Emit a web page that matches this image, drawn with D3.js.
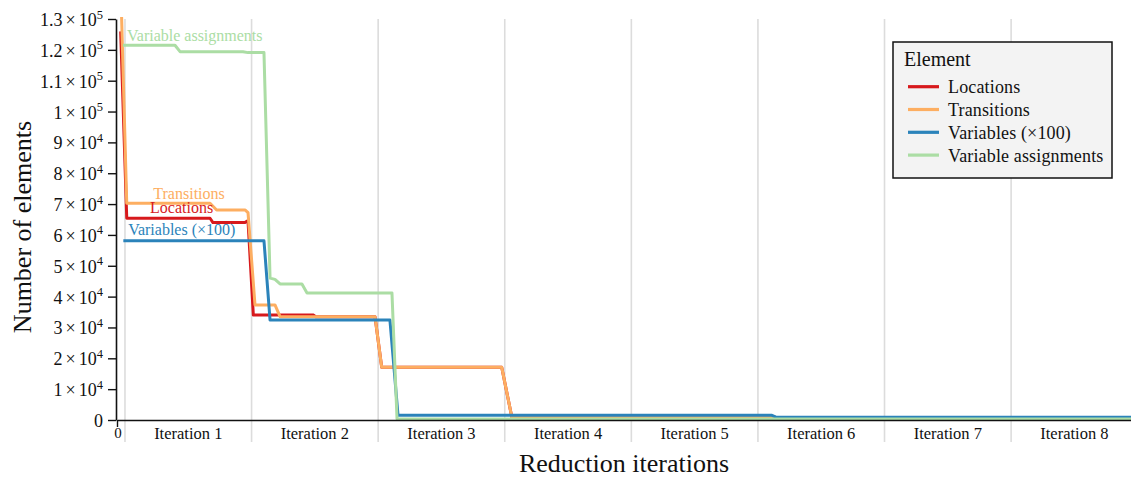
<!DOCTYPE html>
<html>
<head>
<meta charset="utf-8">
<script src="https://cdn.jsdelivr.net/npm/d3@7"></script>
<style>
  body { margin: 0; background: #fff; }
  svg { display: block; }
  text { font-family: "Liberation Serif", "DejaVu Serif", serif; fill: #111; }
</style>
</head>
<body>
<svg id="chart" width="1131" height="480"></svg>
<script>
// Series: [progress in reduction iterations, number of elements]
const seriesNames = ["Locations", "Transitions", "Variables (×100)", "Variable assignments"];
const seriesColors = ["#d7191c", "#fdae61", "#2b83ba", "#abdda4"];

const locations = [
  [0.029, 126000], [0.077, 65400], [0.735, 65400], [0.758, 64000], [1.011, 64000],
  [1.029, 64500], [1.035, 64500], [1.077, 34000], [1.553, 34000], [1.57, 33500],
  [2.038, 33500], [2.091, 17100], [3.039, 17100], [3.118, 1100], [5.174, 1100],
  [5.205, 800], [8.01, 800]
];
const transitions = [
  [0.03, 140000], [0.077, 70250], [0.735, 70250], [0.787, 68100], [1.011, 68100],
  [1.035, 67200], [1.09, 37300], [1.248, 37300], [1.288, 33500], [2.038, 33500],
  [2.091, 17100], [3.039, 17100], [3.118, 1100], [5.174, 1100], [5.205, 800], [8.01, 800]
];
const variables = [
  [0.05, 58100], [1.161, 58100], [1.209, 32400], [2.156, 32400], [2.22, 1500],
  [5.174, 1500], [5.205, 900], [8.01, 900]
];
const variableAssignments = [
  [0.047, 121500], [0.458, 121500], [0.498, 119400], [0.995, 119400], [1.035, 119100],
  [1.161, 119100], [1.209, 46000], [1.248, 45600], [1.288, 44100], [1.461, 44100],
  [1.501, 41200], [2.172, 41200], [2.212, 350], [8.01, 350]
];
const seriesData = [locations, transitions, variables, variableAssignments];

const yTicks = [0, 10000, 20000, 30000, 40000, 50000, 60000, 70000, 80000, 90000,
                100000, 110000, 120000, 130000];
const iterationBounds = [0.063, 1.063, 2.063, 3.063, 4.063, 5.063, 6.063, 7.063];
const iterationLabels = ["Iteration 1", "Iteration 2", "Iteration 3", "Iteration 4",
                         "Iteration 5", "Iteration 6", "Iteration 7", "Iteration 8"];

const svg = d3.select("#chart");
const x = d3.scaleLinear().domain([0, 8.01]).range([117, 1131]);
const y = d3.scaleLinear().domain([0, 130000]).range([420, 19]);

// iteration boundary gridlines
svg.append("g").selectAll("line").data(iterationBounds).join("line")
  .attr("x1", d => x(d)).attr("x2", d => x(d))
  .attr("y1", y(130000)).attr("y2", 442)
  .attr("stroke", "#dcdcdc").attr("stroke-width", 1.6);

// iteration labels centred in each iteration band
svg.append("g").selectAll("text").data(iterationLabels).join("text")
  .attr("x", (d, i) => x(iterationBounds[i] + 0.5))
  .attr("y", 438.5)
  .attr("text-anchor", "middle")
  .style("font-size", "16.5px")
  .text(d => d);

// clip lines to the plotting area
svg.append("defs").append("clipPath").attr("id", "plotClip")
  .append("rect").attr("x", 117).attr("y", 17).attr("width", 1014).attr("height", 406);

const line = d3.line().x(d => x(d[0])).y(d => y(d[1]));
svg.append("g").attr("clip-path", "url(#plotClip)")
  .selectAll("path").data(seriesData).join("path")
  .attr("d", line)
  .attr("fill", "none")
  .attr("stroke", (d, i) => seriesColors[i])
  .attr("stroke-width", 3)
  .attr("stroke-linejoin", "round");

// y axis
const yAxis = svg.append("g").attr("transform", "translate(116,0)")
  .call(d3.axisLeft(y).tickValues(yTicks).tickSize(8).tickSizeOuter(0).tickFormat(""));
yAxis.select(".domain").attr("stroke", "#111").attr("stroke-width", 1.6);
yAxis.selectAll(".tick line").attr("stroke", "#111").attr("stroke-width", 1.4);

function sciParts(v) {
  if (v === 0) return null;
  const e = Math.floor(Math.log10(v));
  const m = +(v / Math.pow(10, e)).toFixed(1);
  return { m: String(m), e: String(e) };
}
const yLabels = svg.append("g").selectAll("text").data(yTicks).join("text")
  .attr("x", 103)
  .attr("y", d => y(d) + 7)
  .attr("text-anchor", "end")
  .style("font-size", "18px");
yLabels.each(function(d) {
  const t = d3.select(this);
  const p = sciParts(d);
  if (!p) { t.text("0"); return; }
  t.append("tspan").text(p.m);
  t.append("tspan").attr("dx", 3).text("×");
  t.append("tspan").attr("dx", 3).text("10");
  t.append("tspan").attr("dy", -7.5).style("font-size", "12.5px").text(p.e);
});

// x axis
const xAxis = svg.append("g").attr("transform", "translate(0,420)")
  .call(d3.axisBottom(x).tickValues([0]).tickSize(7).tickSizeOuter(0).tickFormat(""));
xAxis.select(".domain").attr("stroke", "#111").attr("stroke-width", 1.6);
xAxis.selectAll(".tick line").attr("stroke", "#111").attr("stroke-width", 1.4);
svg.append("text").attr("x", x(0) + 1).attr("y", 437.5)
  .attr("text-anchor", "middle").style("font-size", "15px").text("0");

// axis titles
svg.append("text")
  .attr("transform", "translate(31,227) rotate(-90)")
  .attr("text-anchor", "middle").style("font-size", "26px")
  .text("Number of elements");
svg.append("text")
  .attr("x", 624).attr("y", 471.5)
  .attr("text-anchor", "middle").style("font-size", "26px")
  .text("Reduction iterations");

// direct labels next to the start of each line
const directLabels = [
  { i: 3, px: x(0.079), py: y(121500) - 4 },
  { i: 1, px: x(0.287), py: y(70250) - 4 },
  { i: 0, px: x(0.261), py: y(65400) - 5 },
  { i: 2, px: x(0.088), py: y(58100) - 6 }
];
svg.append("g").selectAll("text").data(directLabels).join("text")
  .attr("x", d => d.px).attr("y", d => d.py)
  .style("font-size", "16px")
  .style("fill", d => seriesColors[d.i])
  .text(d => seriesNames[d.i]);

// legend
const lg = svg.append("g");
lg.append("rect").attr("x", 893).attr("y", 42).attr("width", 219).attr("height", 136)
  .attr("fill", "#f3f3f3").attr("stroke", "#111").attr("stroke-width", 1.5);
lg.append("text").attr("x", 904).attr("y", 66).style("font-size", "20px").text("Element");
const items = lg.selectAll("g.item").data(seriesNames).join("g").attr("class", "item")
  .attr("transform", (d, i) => `translate(0,${86.7 + i * 22.8})`);
items.append("line").attr("x1", 908).attr("x2", 939).attr("y1", 0).attr("y2", 0)
  .attr("stroke", (d, i) => seriesColors[i]).attr("stroke-width", 3.2);
items.append("text").attr("x", 948).attr("y", 6.5)
  .style("font-size", "18px").style("letter-spacing", "0.15px").text(d => d);
</script>
</body>
</html>
